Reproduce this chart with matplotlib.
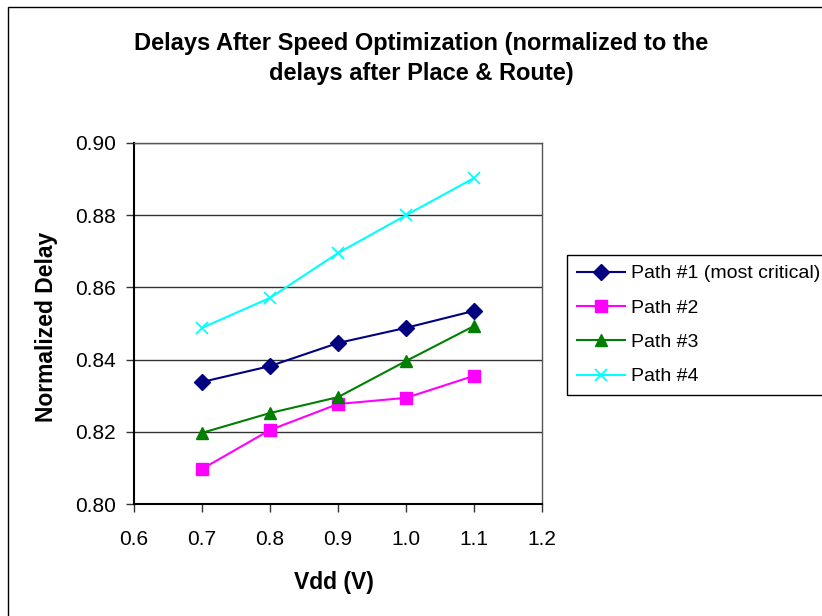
import matplotlib
matplotlib.use("Agg")
import matplotlib.pyplot as plt
from matplotlib.patches import Rectangle

plt.rcParams['font.family'] = ['Liberation Sans', 'DejaVu Sans']

vdd = [0.7, 0.8, 0.9, 1.0, 1.1]
path1 = [0.8338, 0.8382, 0.8446, 0.8488, 0.8535]
path2 = [0.8097, 0.8205, 0.8277, 0.8294, 0.8355]
path3 = [0.8197, 0.8252, 0.8296, 0.8396, 0.8493]
path4 = [0.8488, 0.8571, 0.8695, 0.8800, 0.8903]
labels = ["Path #1 (most critical)", "Path #2", "Path #3", "Path #4"]
xticks = [0.6, 0.7, 0.8, 0.9, 1.0, 1.1, 1.2]
yticks = [0.80, 0.82, 0.84, 0.86, 0.88, 0.90]

W, H = 822, 616
fig = plt.figure(figsize=(W / 100, H / 100), dpi=100)
fig.patches.append(Rectangle((8 / W, -0.1), 1.2, 1.1 - 7 / H, transform=fig.transFigure,
                             fill=False, edgecolor='black', linewidth=1.0))

ax = fig.add_axes([134 / W, 1 - 504 / H, (542 - 134) / W, (504 - 143) / H])

styles = [
    dict(color='#000080', marker='D', markersize=8),
    dict(color='#FF00FF', marker='s', markersize=8),
    dict(color='#008000', marker='^', markersize=9),
    dict(color='#00FFFF', marker='x', markersize=9, markeredgewidth=1.3),
]
for ys, lab, st in zip([path1, path2, path3, path4], labels, styles):
    ax.plot(vdd, ys, label=lab, linewidth=1.5, **st)

ax.set_xlim(0.6, 1.2)
ax.set_ylim(0.80, 0.90)
ax.set_xticks(xticks)
ax.set_xticklabels([f"{t:.1f}" for t in xticks])
ax.set_yticks(yticks)
ax.set_yticklabels([f"{t:.2f}" for t in yticks])
ax.tick_params(axis='both', labelsize=15, direction='out', length=6, width=1, color='#333333')
ax.tick_params(axis='x', pad=13)
ax.tick_params(axis='y', pad=7)
ax.yaxis.grid(True, color='#333333', linewidth=1)
ax.set_axisbelow(True)
for s in ['left', 'bottom']:
    ax.spines[s].set_color('black')
    ax.spines[s].set_linewidth(1.5)
for s in ['top', 'right']:
    ax.spines[s].set_color('#555555')
    ax.spines[s].set_linewidth(1.0)

ax.set_xlabel("Vdd (V)", fontsize=16.5, fontweight='bold')
ax.set_ylabel("Normalized Delay", fontsize=16.5, fontweight='bold')
ax.xaxis.set_label_coords(334 / W, 1 - 582 / H, transform=fig.transFigure)
ax.xaxis.label.set_va('center')
ax.yaxis.set_label_coords(47 / W, 1 - 327 / H, transform=fig.transFigure)
ax.yaxis.label.set_va('center')

fig.text(421 / W, 1 - 58.5 / H, "Delays After Speed Optimization (normalized to the\ndelays after Place & Route)",
         ha='center', va='center', fontsize=17, fontweight='bold', linespacing=1.4)

leg = fig.legend(loc='upper left', bbox_to_anchor=(567 / W, 1 - 255 / H), fontsize=14,
                 frameon=True, fancybox=False, edgecolor='black', framealpha=1,
                 handlelength=2.5, labelspacing=0.86, borderpad=0.5, handletextpad=0.3,
                 borderaxespad=0)
leg.get_frame().set_linewidth(1.0)

fig.savefig("out.png", dpi=100)
